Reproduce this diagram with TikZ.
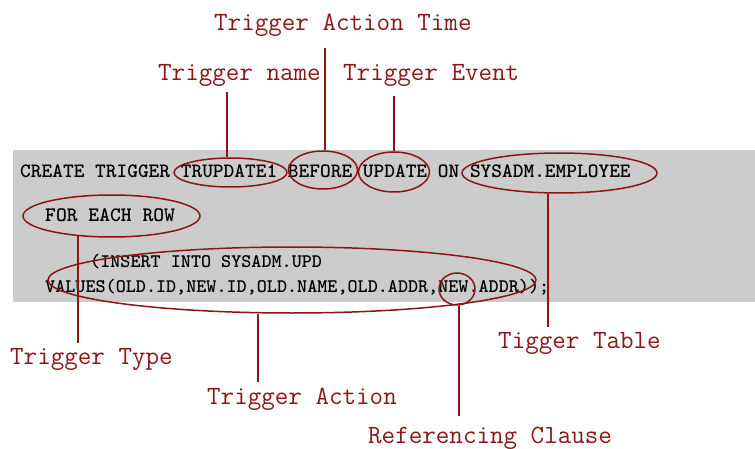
\documentclass[tikz,border=0pt]{standalone}
\usetikzlibrary{shapes.geometric}
\definecolor{markred}{RGB}{140,22,22}
\definecolor{panelgray}{RGB}{204,204,204}
\begin{document}
\begin{tikzpicture}[x=1pt,y=-1pt,
  codetext/.style={inner sep=0pt, anchor=base west, text=black,
    font=\ttfamily\bfseries\fontsize{#1}{#1}\selectfont},
  tag/.style={inner sep=0pt, anchor=base west, text=markred,
    font=\ttfamily\fontsize{26.3}{30}\selectfont},
  ring/.style={draw=markred, line width=1.5pt, ellipse, inner sep=0pt},
  link/.style={draw=markred, line width=1.6pt}]
\useasboundingbox (0,0) rectangle (755,449);

% grey panel holding the SQL statement
\fill[panelgray] (13,150) rectangle (755,302);

% SQL statement
\node[codetext=20.4] (l1) at (20,178) {CREATE TRIGGER TRUPDATE1 BEFORE UPDATE ON SYSADM.EMPLOYEE};
\node[codetext=20.6] (l2) at (45,222) {FOR EACH ROW};
\node[codetext=19.2] (l3) at (90,267) {(INSERT INTO SYSADM.UPD};
\node[codetext=19.2] (l4) at (45,292) {VALUES(OLD.ID,NEW.ID,OLD.NAME,OLD.ADDR,NEW.ADDR));};

% rings around the parts of the statement
\node[ring, minimum width=113pt, minimum height=29pt] (trup) at (230.5,172.5) {};
\node[ring, minimum width=69pt,  minimum height=38pt] (befo) at (323,170) {};
\node[ring, minimum width=71pt,  minimum height=40pt] (upd)  at (394,172) {};
\node[ring, minimum width=195pt, minimum height=40pt] (emp)  at (559.5,173) {};
\node[ring, minimum width=177pt, minimum height=42pt] (fer)  at (111.5,216) {};
\node[ring, minimum width=488pt, minimum height=66pt] (act)  at (292,280) {};
\node[ring, minimum width=36pt,  minimum height=32pt] (newr) at (457,289) {};

% labels
\node[tag] (tat) at (214,31)  {Trigger Action Time};
\node[tag] (tnm) at (158,81)  {Trigger name};
\node[tag] (tev) at (343,81)  {Trigger Event};
\node[tag] (tty) at (10,364)  {Trigger Type};
\node[tag] (tac) at (207,404) {Trigger Action};
\node[tag] (ttb) at (498,348) {Tigger Table};
\node[tag] (trc) at (368,443) {Referencing Clause};

% where the leader lines meet the rings
\coordinate (trupfoot) at ([xshift=-3.5pt]trup.north);
\coordinate (befofoot) at ([xshift=2pt]befo.north);
\coordinate (updfoot)  at (upd.north);
\coordinate (empfoot)  at ([xshift=-11.5pt]emp.south);
\coordinate (ferfoot)  at (fer.211);
\coordinate (actfoot)  at ([xshift=-34pt]act.south);
\coordinate (newfoot)  at ([xshift=2pt]newr.south);

% leader lines
\draw[link, shorten <=5pt]  (trupfoot |- tnm.south) -- (trupfoot);
\draw[link, shorten <=11pt] (befofoot |- tat.south) -- (befofoot);
\draw[link, shorten <=9pt]  (updfoot |- tev.south) -- (updfoot);
\draw[link, shorten >=5pt]  (empfoot) -- (empfoot |- ttb.north);
\draw[link, shorten >=5pt]  (ferfoot) -- (ferfoot |- tty.north);
\draw[link, shorten >=5pt]  (actfoot) -- (actfoot |- tac.north);
\draw[link, shorten >=10pt] (newfoot) -- (newfoot |- trc.north);
\end{tikzpicture}
\end{document}
